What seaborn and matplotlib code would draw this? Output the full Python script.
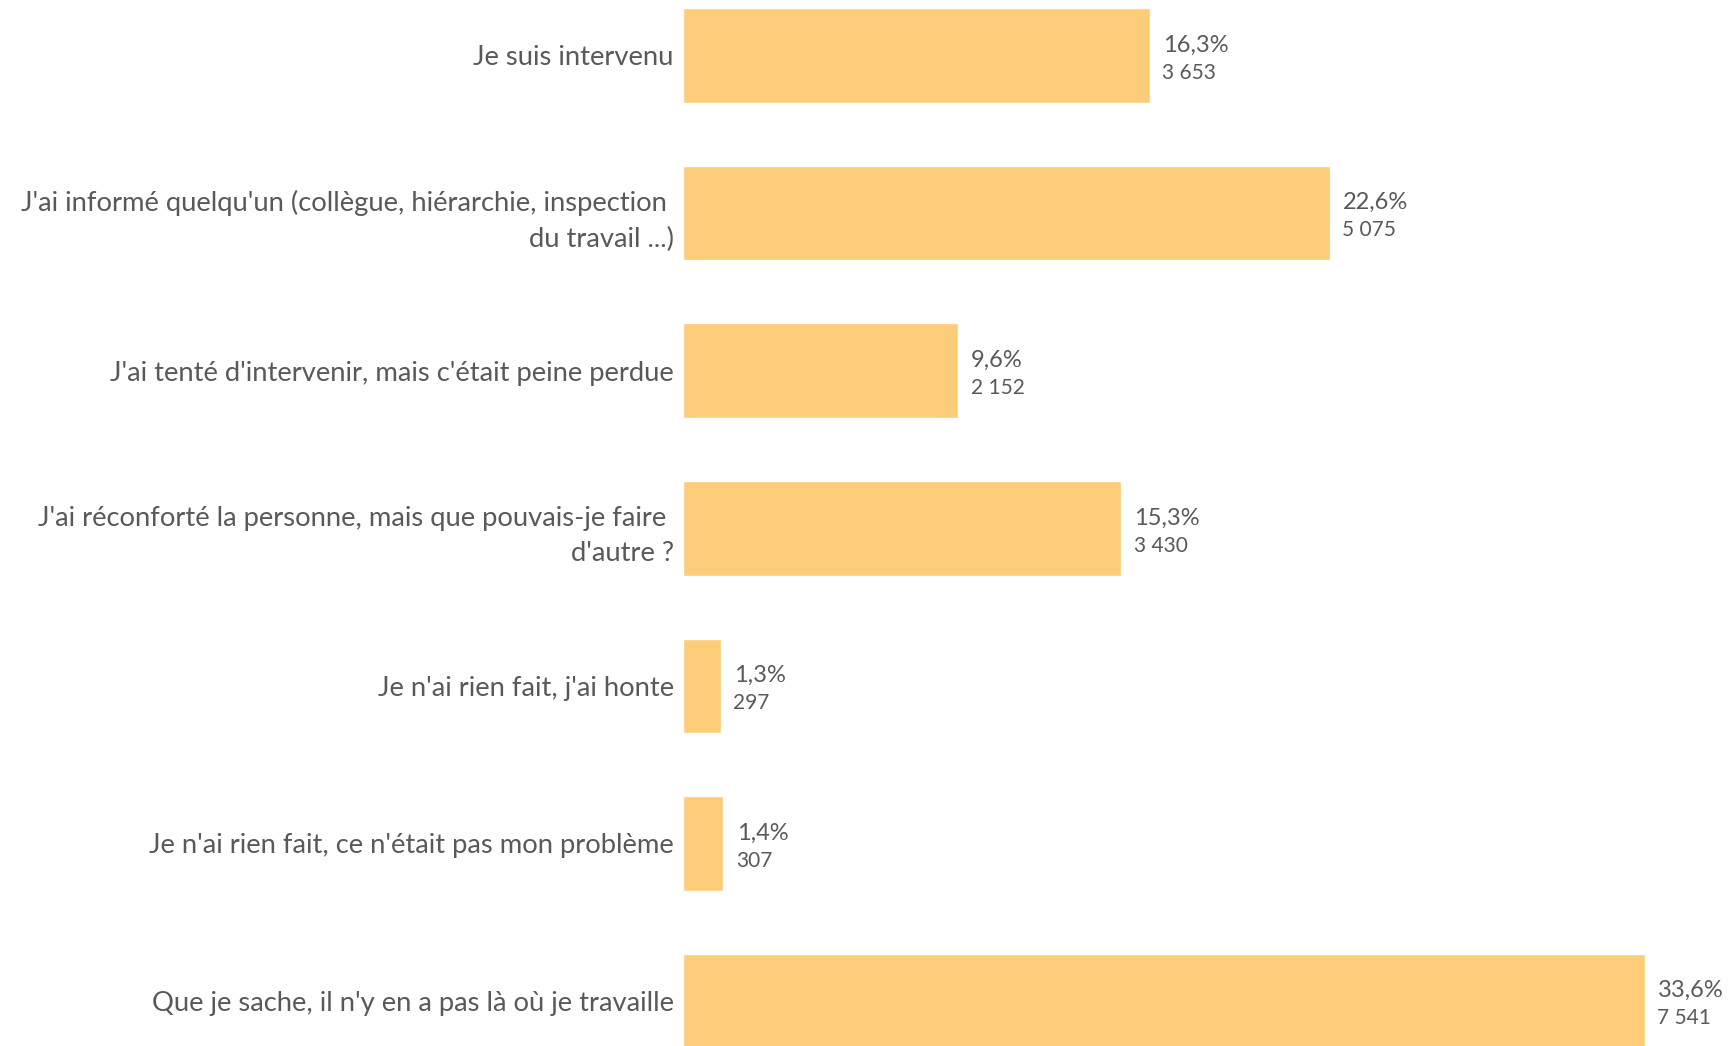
import matplotlib
matplotlib.use("Agg")
import matplotlib.pyplot as plt
import seaborn as sns
import pandas as pd

categories = [
    "Je suis intervenu",
    "J'ai informé quelqu'un (collègue, hiérarchie, inspection \ndu travail ...)",
    "J'ai tenté d'intervenir, mais c'était peine perdue",
    "J'ai réconforté la personne, mais que pouvais-je faire \nd'autre ?",
    "Je n'ai rien fait, j'ai honte",
    "Je n'ai rien fait, ce n'était pas mon problème",
    "Que je sache, il n'y en a pas là où je travaille",
]
percents = [16.3, 22.6, 9.6, 15.3, 1.3, 1.4, 33.6]
counts = ["3 653", "5 075", "2 152", "3 430", "297", "307", "7 541"]
pct_labels = ["16,3%", "22,6%", "9,6%", "15,3%", "1,3%", "1,4%", "33,6%"]

df = pd.DataFrame({"categorie": categories, "pct": percents})

sns.set_theme(style="white")
plt.rcParams["font.family"] = ["Lato", "DejaVu Sans"]

text_color = "#595959"
bar_color = "#FECD7A"

fig = plt.figure(figsize=(17.3, 10.46), dpi=100)
ax = fig.add_axes([0.3950, -0.0324, 0.5954, 1.0547])

sns.barplot(data=df, x="pct", y="categorie", orient="h", color=bar_color,
            width=0.6, saturation=1, ax=ax)

ax.set_xlim(0, 36)
ax.set_ylim(6.5, -0.5)
ax.set_xlabel("")
ax.set_ylabel("")
ax.set_xticks([])
ax.set_yticks(range(len(categories)), labels=categories, ha="right",
              multialignment="right", linespacing=1.52)
sns.despine(ax=ax, left=True, bottom=True)
ax.tick_params(axis="y", length=0, pad=7, labelsize=19.7, labelcolor=text_color)

for i, (p, pl, c) in enumerate(zip(percents, pct_labels, counts)):
    ax.annotate(pl, xy=(p, i), xytext=(9.5, 7.5), textcoords="offset points",
                ha="left", va="center", fontsize=17, color=text_color)
    ax.annotate(c, xy=(p, i), xytext=(9, -12.5), textcoords="offset points",
                ha="left", va="center", fontsize=15, color=text_color)

fig.savefig("out.png", dpi=100)
